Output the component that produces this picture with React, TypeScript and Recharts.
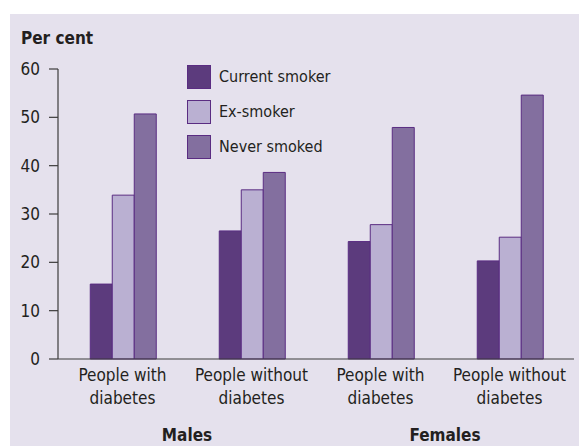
import React from "react";
import { BarChart, Bar, XAxis, YAxis, Legend } from "recharts";

const categories = [
  "People with diabetes",
  "People without diabetes",
  "People with diabetes",
  "People without diabetes",
];
const groupSex = ["Males", "Males", "Females", "Females"];
const currentSmoker = [15.5, 26.5, 24.3, 20.3];
const exSmoker = [33.9, 35.0, 27.8, 25.2];
const neverSmoked = [50.7, 38.6, 47.9, 54.6];
const yTicks = [0, 10, 20, 30, 40, 50, 60];
const yLabel = "Per cent";

const seriesNames = ["Current smoker", "Ex-smoker", "Never smoked"];
const seriesColors = ["#5C3B7D", "#BAB0D2", "#836F9F"];
const strokeColor = "#5A2C82";
const FONT = "'DejaVu Sans Condensed', 'DejaVu Sans', sans-serif";
const TEXT = "#231F20";

const data = categories.map((c, i) => ({
  cat: c,
  sex: groupSex[i],
  current: currentSmoker[i],
  ex: exSmoker[i],
  never: neverSmoked[i],
}));

const CatTick = (props: any) => {
  const { x, y, payload } = props;
  const label: string = String(payload.value);
  const idx = label.lastIndexOf(" ");
  const l1 = label.slice(0, idx);
  const l2 = label.slice(idx + 1);
  return (
    <g>
      <text x={x} y={y + 14} textAnchor="middle" fontFamily={FONT} fontSize={17} fill={TEXT}>
        {l1}
      </text>
      <text x={x} y={y + 37} textAnchor="middle" fontFamily={FONT} fontSize={17} fill={TEXT}>
        {l2}
      </text>
    </g>
  );
};

const SexTick = (props: any) => {
  const { x, y, payload } = props;
  return (
    <text x={x} y={y + 19} textAnchor="middle" fontFamily={FONT} fontSize={17} fontWeight="bold" fill={TEXT}>
      {payload.value}
    </text>
  );
};

const LegendContent = () => (
  <div style={{ fontFamily: FONT, fontSize: 16, color: TEXT }}>
    {seriesNames.map((n, i) => (
      <div key={n} style={{ display: "flex", alignItems: "center", height: 35 }}>
        <div
          style={{
            width: 22,
            height: 22,
            background: seriesColors[i],
            border: `1px solid ${strokeColor}`,
            marginRight: 8,
          }}
        />
        <span>{n}</span>
      </div>
    ))}
  </div>
);

export default function App() {
  return (
    <div style={{ position: "absolute", left: 0, top: 0, width: 579, height: 446, background: "#ffffff" }}>
      <div style={{ position: "absolute", left: 10, top: 14, width: 569, height: 432, background: "#E5E1ED" }} />
      <div
        style={{
          position: "absolute",
          left: 21,
          top: 27,
          fontFamily: FONT,
          fontSize: 17,
          fontWeight: "bold",
          color: TEXT,
          lineHeight: "22px",
        }}
      >
        {yLabel}
      </div>
      <div style={{ position: "absolute", left: 0, top: 0 }}>
        <BarChart
          width={579}
          height={446}
          data={data}
          margin={{ top: 69, right: 5, bottom: 0, left: 0 }}
          barCategoryGap="25%"
          barGap={0}
        >
          <XAxis
            xAxisId={0}
            dataKey="cat"
            height={55}
            tickLine={false}
            axisLine={{ stroke: "#3C3C3C", strokeWidth: 1.2 }}
            tick={<CatTick />}
            interval={0}
          />
          <XAxis
            xAxisId="sex"
            dataKey="sex"
            allowDuplicatedCategory={false}
            height={32}
            axisLine={false}
            tickLine={false}
            tick={<SexTick />}
            interval={0}
          />
          <YAxis
            width={58}
            domain={[0, 60]}
            ticks={yTicks}
            tickSize={9}
            tickMargin={9}
            axisLine={{ stroke: "#3C3C3C", strokeWidth: 1.2 }}
            tickLine={{ stroke: "#3C3C3C", strokeWidth: 1.2 }}
            tick={{ fontFamily: FONT, fontSize: 17, fill: TEXT }}
          />
          <Legend
            layout="vertical"
            align="center"
            verticalAlign="middle"
            content={<LegendContent />}
            wrapperStyle={{ position: "absolute", left: 187, top: 59, width: 200 }}
          />
          <Bar dataKey="current" name={seriesNames[0]} fill={seriesColors[0]} stroke={strokeColor} strokeWidth={1} isAnimationActive={false} />
          <Bar dataKey="ex" name={seriesNames[1]} fill={seriesColors[1]} stroke={strokeColor} strokeWidth={1} isAnimationActive={false} />
          <Bar dataKey="never" name={seriesNames[2]} fill={seriesColors[2]} stroke={strokeColor} strokeWidth={1} isAnimationActive={false} />
        </BarChart>
      </div>
    </div>
  );
}
